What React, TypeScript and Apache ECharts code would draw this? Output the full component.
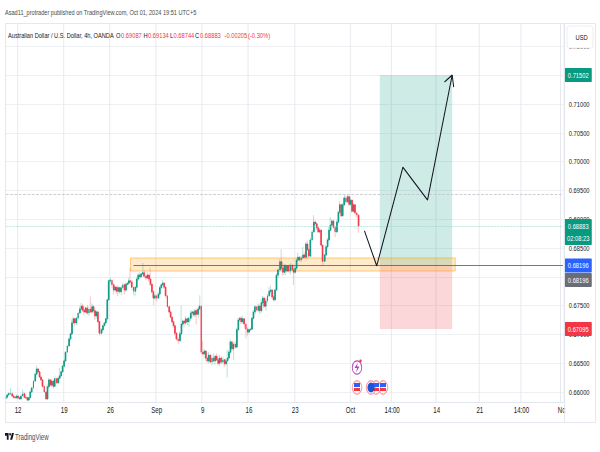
import React, { useEffect, useRef } from "react";
import * as echarts from "echarts";

const FONT = "'Liberation Sans', Arial, sans-serif";
// The reference is a horizontally squeezed screenshot: the chart is laid out wider, then squeezed.
const SQUEEZE = 0.72;
const X = (x: number) => x / SQUEEZE;

const firstOpen = 0.6589;
const closes = [
  0.6591,0.6595,0.6597,0.6597,0.6593,0.6591,0.6590,0.6593,0.6590,0.6588,
  0.6593,0.6597,0.6591,0.6590,0.6586,0.6590,0.6600,0.6607,0.6619,0.6631,
  0.6640,0.6635,0.6626,0.6621,0.6610,0.6600,0.6588,0.6609,0.6621,0.6612,
  0.6619,0.6610,0.6623,0.6616,0.6624,0.6628,0.6635,0.6645,0.6654,0.6669,
  0.6680,0.6692,0.6701,0.6720,0.6727,0.6720,0.6728,0.6737,0.6744,0.6749,
  0.6742,0.6739,0.6746,0.6737,0.6744,0.6739,0.6748,0.6741,0.6732,0.6739,
  0.6722,0.6702,0.6708,0.6715,0.6720,0.6727,0.6760,0.6793,0.6794,0.6786,
  0.6777,0.6782,0.6775,0.6781,0.6774,0.6781,0.6786,0.6777,0.6787,0.6789,
  0.6793,0.6791,0.6782,0.6775,0.6782,0.6796,0.6803,0.6800,0.6805,0.6807,
  0.6801,0.6798,0.6803,0.6796,0.6787,0.6774,0.6763,0.6767,0.6763,0.6770,
  0.6781,0.6786,0.6789,0.6782,0.6767,0.6748,0.6739,0.6730,0.6722,0.6715,
  0.6702,0.6692,0.6689,0.6701,0.6718,0.6723,0.6720,0.6727,0.6722,0.6728,
  0.6737,0.6739,0.6734,0.6741,0.6735,0.6744,0.6749,0.6669,0.6666,0.6671,
  0.6659,0.6654,0.6664,0.6652,0.6659,0.6654,0.6662,0.6656,0.6650,0.6659,
  0.6652,0.6656,0.6649,0.6654,0.6659,0.6669,0.6687,0.6675,0.6683,0.6678,
  0.6708,0.6725,0.6728,0.6722,0.6727,0.6718,0.6709,0.6704,0.6708,0.6709,
  0.6728,0.6739,0.6748,0.6742,0.6749,0.6741,0.6755,0.6763,0.6749,0.6758,
  0.6767,0.6775,0.6777,0.6765,0.6760,0.6777,0.6803,0.6812,0.6826,0.6815,
  0.6808,0.6819,0.6810,0.6819,0.6810,0.6820,0.6812,0.6808,0.6815,0.6829,
  0.6834,0.6829,0.6833,0.6838,0.6834,0.6857,0.6847,0.6836,0.6864,0.6878,
  0.6895,0.6892,0.6885,0.6878,0.6881,0.6855,0.6827,0.6838,0.6852,0.6864,
  0.6881,0.6890,0.6897,0.6886,0.6878,0.6895,0.6912,0.6925,0.6906,0.6925,
  0.6937,0.6930,0.6939,0.6926,0.6933,0.6914,0.6925,0.6911,0.6907,0.68883,
];
// wick lengths, in pips
const upperWicks = [
  2,1,3,10,2,1,2,3,1,2, 3,7,2,1,2,1,3,2,2,3, 6,2,1,3,1,2,1,5,3,2, 3,1,4,2,3,14,2,1,3,2,
  2,3,1,6,4,2,3,2,5,6, 4,3,2,5,4,22,6,3,2,3, 2,1,3,2,1,2,1,3,4,2, 3,2,1,4,2,3,4,2,3,2,
  5,22,3,1,2,4,3,5,2,17, 4,3,5,2,20,1,2,3,2,4, 3,2,6,2,1,2,1,3,1,2, 1,2,3,4,32,3,2,5,2,3,
  4,3,2,3,4,3,19,2,20,4, 2,3,6,2,3,8,2,5,3,6, 3,5,2,4,14,3,4,2,3,6, 3,4,2,3,5,1,2,3,2,3,
  2,4,3,2,5,3,6,4,3,5, 4,7,8,2,3,2,4,3,5,22, 2,4,3,2,3,4,2,3,5,4, 8,2,3,14,5,3,6,2,4,3,
  12,3,2,4,3,1,1,2,3,4, 5,14,3,2,3,4,3,6,2,3, 5,3,4,2,5,2,3,1,2,2,
];
const lowerWicks = [
  2,3,1,2,2,3,1,2,2,1, 2,1,3,2,1,2,1,2,3,2, 1,2,2,1,3,2,1,2,3,2, 3,4,1,2,3,2,1,2,3,2,
  1,2,3,2,1,5,4,2,1,3, 4,6,2,3,5,2,3,4,7,5, 3,4,2,3,1,2,3,1,4,6, 8,3,5,9,4,6,3,8,4,3,
  3,4,5,6,9,2,3,4,2,3, 3,4,2,5,4,3,12,3,6,2, 3,2,1,3,4,2,3,2,3,4, 4,3,6,2,3,3,8,4,6,9,
  5,8,3,4,18,6,3,3,2,8, 5,3,4,2,6,3,7,2,3,5, 4,2,6,3,29,3,2,4,19,3, 2,2,3,4,3,8,16,6,3,2,
  2,3,4,2,3,5,4,3,4,8, 3,2,4,3,2,3,2,5,3,4, 6,5,7,3,4,6,2,22,3,4, 3,2,4,3,2,3,17,3,2,3,
  2,3,4,2,3,2,7,1,2,3, 3,2,3,2,9,2,3,2,3,2, 2,3,2,3,2,3,2,3,4,12,
];

const BAR_COUNT = 363;
const tickBars = [8, 38, 68, 98, 128, 158, 188, 224, 251, 280, 308, 335, 361];
const tickLabels = ["12", "19", "26", "Sep", "9", "16", "23", "Oct", "14:00", "14", "21", "14:00", "Nc"];
// price-scale ticks that sit entirely behind a price tag in the reference
const coveredTicks = [0.715, 0.68];

const pathBars = [233, 241, 258, 274, 290];
const pathPrices = [0.688, 0.6819, 0.699, 0.69333, 0.71502];
const headBars = [285, 290, 291];
const headPrices = [0.71382, 0.71502, 0.71295];

const targetPrice = 0.71502;
const entryPrice = 0.68196;
const stopPrice = 0.67095;
const lastPrice = 0.68883;
const resistancePrice = 0.6944;
const zoneTop = 0.68326;
const zoneBottom = 0.681;
const positionBars = [243, 290];
const zoneBars = [81, 292];
const entryLineStart = 83;

const tagValues = [0.71502, 0.68883, 0.68196, 0.68196, 0.67095];
const tagSubtitles = ["", "02:08:23", "", "", ""];
const tagColors = ["#089981", "#089981", "#2962ff", "#6a6d78", "#f23645"];
const tagShifts = [0, 0, 0, 14.5, 0];

const headerPieces: [string, number, string, number][] = [
  ["Australian Dollar / U.S. Dollar, 4h, OANDA", 8, "#131722", 7.85],
  ["O", 116, "#131722", 8], ["0.69087", 121, "#f23645", 8],
  ["H", 143.5, "#131722", 8], ["0.69134", 148, "#f23645", 8],
  ["L", 170, "#131722", 8], ["0.68744", 173.5, "#f23645", 8],
  ["C", 195, "#131722", 8], ["0.68883", 200, "#f23645", 8],
  ["-0.00205", 224.5, "#f23645", 8], ["(-0.30%)", 248, "#f23645", 8],
];

const TvLogo = echarts.graphic.extendPath(
  "M14 6H2v6h6v9h6V6Zm12 15h-7l6-15h7l-6 15Zm-7-9a3 3 0 1 0 0-6 3 3 0 0 0 0 6Z" as any,
  {}
);
echarts.graphic.registerShape("tvlogo", TvLogo as any);

function flag(cx: number, inner: string) {
  return [
    { type: "circle", z: 20, shape: { cx: X(cx), cy: 387.5, r: 6.6 }, style: { fill: "#fff", stroke: "#f7a3a9", lineWidth: 1.5 } },
    { type: "rect", z: 21, shape: { x: X(cx - 3), y: 383, width: X(6), height: 4 }, style: { fill: inner } },
    { type: "rect", z: 21, shape: { x: X(cx - 3), y: 388, width: X(6), height: 3 }, style: { fill: "#f23645" } },
  ];
}

export default function App() {
  const ref = useRef<HTMLDivElement>(null);
  useEffect(() => {
    document.body.style.margin = "0";
    const chart = echarts.init(ref.current!, undefined, { renderer: "svg" });
    const categories = Array.from({ length: BAR_COUNT }, (_, i) => String(i));
    const opens = closes.map((_, i) => (i === 0 ? firstOpen : closes[i - 1]));
    const full = closes.map((c, i) => {
      const o = opens[i];
      return [o, c, Math.min(o, c) - lowerWicks[i] / 10000, Math.max(o, c) + upperWicks[i] / 10000];
    });
    const bodies = closes.map((c, i) => [opens[i], c, Math.min(opens[i], c), Math.max(opens[i], c)]);
    const showTick = (index: number) => tickBars.includes(index);
    const candleStyle = { color: "#089981", color0: "#f23645", borderColor: "#089981", borderColor0: "#f23645", borderWidth: 0.8 };
    const text = (t: string, x: number, y: number, fill: string, size = 8) => ({
      type: "text", z: 20, x: X(x), y,
      style: { text: t, fill, font: `${size}px ${FONT}`, textVerticalAlign: "middle" },
    });
    const line = (x1: number, y1: number, x2: number, y2: number) => ({
      type: "line", z: 19, shape: { x1: X(x1), y1, x2: X(x2), y2 }, style: { stroke: "#e0e3eb", lineWidth: 1 },
    });
    chart.setOption({
      animation: false,
      backgroundColor: "#ffffff",
      grid: { left: X(5), right: X(36), top: 17.6, bottom: 31.2, containLabel: false },
      xAxis: [
        {
          type: "category", data: categories, boundaryGap: true, z: 0,
          axisLine: { show: false }, axisTick: { show: false }, axisLabel: { show: false },
          splitLine: { show: true, interval: showTick, lineStyle: { color: "#e6e8ed", width: 1.3 } },
        },
        {
          type: "category", data: categories, boundaryGap: true, position: "bottom", offset: -18.8, z: 8,
          axisLine: { show: true, lineStyle: { color: "#e0e3eb" } }, axisTick: { show: false }, splitLine: { show: false },
          axisLabel: {
            show: true, interval: showTick, margin: 4, color: "#131722", fontSize: 8.5, fontFamily: FONT,
            formatter: (_: string, index: number) => tickLabels[tickBars.indexOf(index)] ?? "",
          },
        },
      ],
      yAxis: {
        type: "value", position: "right", min: 0.655, max: 0.725, interval: 0.005, scale: true,
        axisLine: { show: false }, axisTick: { show: false },
        splitLine: { show: true, showMinLine: false, showMaxLine: false, lineStyle: { color: "#eceef2", width: 1 } },
        axisLabel: {
          margin: X(5), color: "#131722", fontSize: 8, fontFamily: FONT, showMinLabel: false, showMaxLabel: false,
          formatter: (v: number) => (coveredTicks.some((t) => Math.abs(v - t) < 1e-6) ? "" : v.toFixed(5)),
        },
      },
      series: [
        {
          name: "wicks", type: "candlestick", data: full, barWidth: 1.4, z: 3,
          itemStyle: { ...candleStyle, opacity: 0.42 },
          markLine: {
            silent: true, symbol: ["none", "none"], label: { show: false }, animation: false,
            data: [
              [
                { coord: [0, resistancePrice], lineStyle: { color: "#c4c6cd", type: "dashed", width: 1 } },
                { coord: [BAR_COUNT - 1, resistancePrice] },
              ],
              [
                { coord: [0, lastPrice], lineStyle: { color: "#9ad8cd", type: "dotted", width: 1 } },
                { coord: [BAR_COUNT - 1, lastPrice] },
              ],
              [
                { coord: [entryLineStart, entryPrice], lineStyle: { color: "#2962ff", type: "solid", width: 1 } },
                { coord: [BAR_COUNT - 1, entryPrice] },
              ],
            ],
          },
        },
        { name: "bodies", type: "candlestick", data: bodies, barWidth: 1.4, z: 4, itemStyle: candleStyle },
        {
          name: "zones", type: "line", data: [], z: 5,
          markArea: {
            silent: true,
            data: [
              [
                { coord: [positionBars[0], targetPrice], itemStyle: { color: "rgba(8,153,129,0.2)" } },
                { coord: [positionBars[1], entryPrice] },
              ],
              [
                { coord: [positionBars[0], entryPrice], itemStyle: { color: "rgba(242,54,69,0.2)" } },
                { coord: [positionBars[1], stopPrice] },
              ],
              [
                { coord: [zoneBars[0], zoneTop], itemStyle: { color: "rgba(255,152,0,0.2)", borderColor: "rgba(255,152,0,0.55)", borderWidth: 1 } },
                { coord: [zoneBars[1], zoneBottom] },
              ],
            ],
          },
        },
        {
          name: "path", type: "line", z: 6, showSymbol: false, symbol: "none",
          data: pathBars.map((b, i) => [b, pathPrices[i]]),
          lineStyle: { color: "#131722", width: 1.4 },
        },
        {
          name: "arrowhead", type: "line", z: 6, showSymbol: false, symbol: "none",
          data: headBars.map((b, i) => [b, headPrices[i]]),
          lineStyle: { color: "#131722", width: 1.4 },
        },
        {
          name: "tags", type: "custom", z: 10, clip: false,
          data: tagValues.map((v) => [0, v]),
          encode: { x: 0, y: 1 },
          renderItem: (params: any, api: any) => {
            const i = params.dataIndex;
            const y = api.coord([0, api.value(1)])[1] + tagShifts[i];
            const left = params.coordSys.x + params.coordSys.width + X(1);
            const width = X(27);
            const sub = tagSubtitles[i];
            const children: any[] = [
              {
                type: "rect",
                shape: { x: left, y: y - 7, width, height: sub ? 26 : 14, r: 1 },
                style: { fill: tagColors[i] },
              },
              {
                type: "text",
                style: {
                  text: api.value(1).toFixed(5), x: left + width / 2, y, fill: "#fff",
                  font: `8px ${FONT}`, textAlign: "center", textVerticalAlign: "middle",
                },
              },
            ];
            if (sub) {
              children.push({
                type: "text",
                style: {
                  text: sub, x: left + width / 2, y: y + 12, fill: "#fff",
                  font: `8px ${FONT}`, textAlign: "center", textVerticalAlign: "middle",
                },
              });
            }
            return { type: "group", children };
          },
        },
      ],
      graphic: [
        { type: "rect", z: 1, shape: { x: 0, y: 0, width: X(600), height: 23 }, style: { fill: "#fff" } },
        { type: "rect", z: 1, shape: { x: 0, y: 402.5, width: X(565), height: 49 }, style: { fill: "#fff" } },
        line(5.5, 23.5, 595.5, 23.5),
        line(5.5, 23.5, 5.5, 422.5),
        line(564.5, 23.5, 564.5, 422.5),
        line(595.5, 23.5, 595.5, 422.5),
        line(5.5, 422.5, 595.5, 422.5),
        text("Asad11_protrader published on TradingView.com, Oct 01, 2024 19:51 UTC+5", 5, 12, "#4a4a4a", 7.75),
        ...headerPieces.map(([t, x, c, s]) => text(t, x, 35, c, s)),
        { type: "rect", z: 20, shape: { x: X(567), y: 26, width: X(26), height: 22, r: 3 }, style: { fill: "#fff", stroke: "#e9ebf0" } },
        text("USD", 575.5, 37.5, "#131722"),
        { type: "tvlogo", z: 20, x: X(4.4), y: 430.3, scaleX: 0.3 / SQUEEZE, scaleY: 0.45, style: { fill: "#131722" } },
        text("TradingView", 15, 437, "#4a4a4a", 8.5),
        { type: "circle", z: 20, shape: { cx: X(357), cy: 367.5, r: 6.6 }, style: { fill: "#fff", stroke: "#ab47bc", lineWidth: 1.2 } },
        { type: "polygon", z: 21, shape: { points: [[X(358), 362.5], [X(354.5), 368], [X(357), 368], [X(356), 372.5], [X(359.5), 366.5], [X(357), 366.5]] }, style: { fill: "#ab47bc" } },
        { type: "circle", z: 21, shape: { cx: X(360.5), cy: 361, r: 1.6 }, style: { fill: "#f23645" } },
        ...flag(383, "#2962ff"),
        ...flag(376, "#2962ff"),
        { type: "circle", z: 20, shape: { cx: X(371), cy: 387.5, r: 6.6 }, style: { fill: "#fff", stroke: "#f7a3a9", lineWidth: 1.5 } },
        { type: "circle", z: 21, shape: { cx: X(371), cy: 387.5, r: 5 }, style: { fill: "#1e53d8" } },
        ...flag(357, "#2962ff"),
      ],
    });
    return () => chart.dispose();
  }, []);
  return (
    <div style={{ width: 600, height: 452, overflow: "hidden" }}>
      <div
        ref={ref}
        style={{ width: X(600), height: 452, transform: `scaleX(${SQUEEZE})`, transformOrigin: "0 0" }}
      />
    </div>
  );
}
